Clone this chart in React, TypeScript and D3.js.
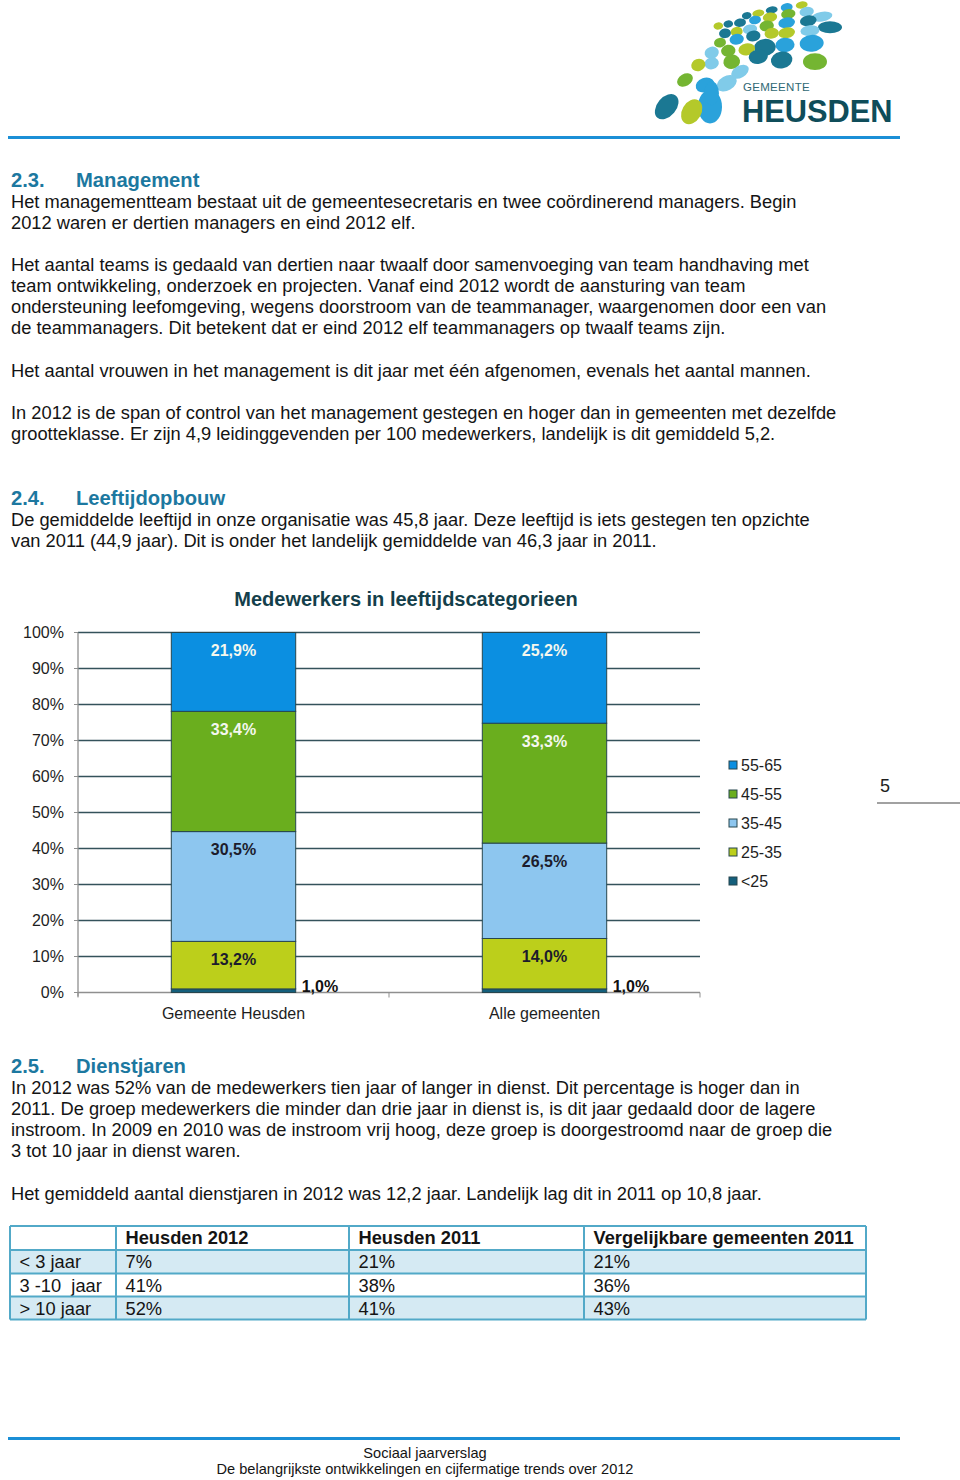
import React from 'react';
import * as d3 from 'd3';

// chart data
const categories = ['Gemeente Heusden', 'Alle gemeenten'];
const ageGroups = ['<25', '25-35', '35-45', '45-55', '55-65'];
const heusden = [1.0, 13.2, 30.5, 33.4, 21.9];
const alleGemeenten = [1.0, 14.0, 26.5, 33.3, 25.2];
const yTicks = [0, 10, 20, 30, 40, 50, 60, 70, 80, 90, 100];

// table data
const tableHead = ['', 'Heusden 2012', 'Heusden 2011', 'Vergelijkbare gemeenten 2011'];
const tableRowLabels = ['< 3 jaar', '3 -10  jaar', '> 10 jaar'];
const heusden2012 = ['7%', '41%', '52%'];
const heusden2011 = ['21%', '38%', '41%'];
const vergelijkbaar2011 = ['21%', '36%', '43%'];

const FONT = '"Liberation Sans", Arial, Helvetica, sans-serif';
const HEAD = '#1c78a0';

const colors: Record<string, string> = {
  '<25': '#145f7c',
  '25-35': '#bccf1b',
  '35-45': '#8dc6ef',
  '45-55': '#6aae1e',
  '55-65': '#0b8fe1',
};
const labelColor: Record<string, string> = {
  '25-35': '#1c1c2c',
  '35-45': '#1c1c2c',
  '45-55': '#f4f7ee',
  '55-65': '#f4f7ee',
};

const para1 = [
  'Het managementteam bestaat uit de gemeentesecretaris en twee coördinerend managers. Begin',
  '2012 waren er dertien managers en eind 2012 elf.',
];
const para2 = [
  'Het aantal teams is gedaald van dertien naar twaalf door samenvoeging van team handhaving met',
  'team ontwikkeling, onderzoek en projecten. Vanaf eind 2012 wordt de aansturing van team',
  'ondersteuning leefomgeving, wegens doorstroom van de teammanager, waargenomen door een van',
  'de teammanagers. Dit betekent dat er eind 2012 elf teammanagers op twaalf teams zijn.',
];
const para3 = ['Het aantal vrouwen in het management is dit jaar met één afgenomen, evenals het aantal mannen.'];
const para4 = [
  'In 2012 is de span of control van het management gestegen en hoger dan in gemeenten met dezelfde',
  'grootteklasse. Er zijn 4,9 leidinggevenden per 100 medewerkers, landelijk is dit gemiddeld 5,2.',
];
const para5 = [
  'De gemiddelde leeftijd in onze organisatie was 45,8 jaar. Deze leeftijd is iets gestegen ten opzichte',
  'van 2011 (44,9 jaar). Dit is onder het landelijk gemiddelde van 46,3 jaar in 2011.',
];
const para6 = [
  'In 2012 was 52% van de medewerkers tien jaar of langer in dienst. Dit percentage is hoger dan in',
  '2011. De groep medewerkers die minder dan drie jaar in dienst is, is dit jaar gedaald door de lagere',
  'instroom. In 2009 en 2010 was de instroom vrij hoog, deze groep is doorgestroomd naar de groep die',
  '3 tot 10 jaar in dienst waren.',
];
const para7 = ['Het gemiddeld aantal dienstjaren in 2012 was 12,2 jaar. Landelijk lag dit in 2011 op 10,8 jaar.'];

// logo blobs: x, y, rx, ry, rotation, colour
const T = '#1b7893', B = '#2aa2db', L = '#80cbe9', G = '#74b532', Y = '#b4c92a';
const blobs: [number, number, number, number, number, string][] = [
  [801.7, 5, 5, 3, -10, Y], [786.7, 7.3, 5, 3.5, -10, B], [771.7, 10, 5, 3, -10, T], [758.3, 13.3, 5, 3, -10, Y],
  [746.7, 15.7, 4, 3, -10, T], [821.7, 16.7, 9, 4, -10, L], [806.7, 11.7, 6, 4, -10, L], [788.3, 14, 6, 4, -10, G],
  [770, 17.3, 6, 4, -10, Y], [755, 20, 5, 3.5, -10, B], [740, 22.7, 5, 3.5, -10, T], [728.3, 24, 4, 3, -10, T],
  [718.3, 26, 4, 3, -10, Y], [830, 27.3, 10, 5, 0, T], [808.3, 20.7, 7, 4.5, -10, T], [786.7, 22.7, 7, 4.5, -10, B],
  [766.7, 26, 6, 4.5, -10, G], [750, 29.3, 6, 4, -10, L], [736.7, 31.7, 5, 4, -10, Y], [725, 33.3, 5, 4, -10, T],
  [810, 30.7, 8, 4.5, -5, L], [786.7, 32.7, 7, 4.5, -10, Y], [771.7, 33.3, 6, 4.5, -10, Y], [753.3, 36, 6, 4.5, -10, T],
  [736.7, 39.3, 6, 4.5, -10, B], [720, 42.7, 5, 4, -10, G], [811.7, 43.3, 10, 7, -5, B], [785, 45, 8, 6, -5, B],
  [765, 47.3, 9, 7, -5, T], [746.7, 49.3, 7, 5, -10, Y], [728.3, 50.7, 6, 5, -10, G], [711.7, 52.7, 6, 5, -15, L],
  [815, 61.7, 10, 7, 0, G], [781.7, 60, 9, 7, -10, T], [758.3, 56.7, 8, 6, -10, T], [731.7, 61.7, 7, 6, -10, G],
  [711.7, 63.3, 6, 5, -15, L], [698.3, 65, 6, 5, -20, Y], [740, 71.7, 8, 5, -30, L], [726.7, 83.3, 9, 6, -30, L],
  [705, 85, 8, 6, -20, B], [685, 80, 7, 5, -30, G], [710, 106.7, 10, 14, 0, B], [691.7, 111.7, 8, 11, 30, Y],
  [666.7, 106.7, 8, 12, 40, T], [711.7, 93.3, 6, 10, 0, B],
];

const fmt = (v: number) => v.toFixed(1).replace('.', ',') + '%';

function Paragraph({ lines, y0 }: { lines: string[]; y0: number }) {
  return (
    <g>
      {lines.map((l, i) => (
        <text key={i} x={11} y={y0 + i * 21.2} fontSize={18.3} fill="#141414">{l}</text>
      ))}
    </g>
  );
}

function Heading({ num, title, y }: { num: string; title: string; y: number }) {
  return (
    <g fontWeight="bold" fontSize={20.2} fill={HEAD}>
      <text x={11} y={y}>{num}</text>
      <text x={76} y={y}>{title}</text>
    </g>
  );
}

function Chart() {
  const x = d3.scaleBand().domain(categories).range([78, 700]);
  const y = d3.scaleLinear().domain([0, 100]).range([992.5, 632.5]);
  const barW = x.bandwidth() * 0.4;

  const rows = categories.map((c, i) => {
    const vals = i === 0 ? heusden : alleGemeenten;
    const r: Record<string, number | string> = { cat: c };
    ageGroups.forEach((g, j) => { r[g] = vals[j]; });
    return r;
  });
  const series = d3.stack<Record<string, number | string>>().keys(ageGroups)(rows as any);

  return (
    <g fontFamily={FONT}>
      <text x={406} y={606} textAnchor="middle" fontSize={20} fontWeight="bold" fill="#143f4b">
        Medewerkers in leeftijdscategorieen
      </text>
      {yTicks.filter((t) => t > 0).map((t) => (
        <line key={t} x1={78} x2={700} y1={y(t)} y2={y(t)} stroke="#34525b" strokeWidth={1.4} />
      ))}
      <line x1={78} x2={78} y1={y(100)} y2={y(0) + 4} stroke="#8f8f8f" strokeWidth={1.3} />
      <line x1={78} x2={700} y1={y(0)} y2={y(0)} stroke="#8f8f8f" strokeWidth={1.3} />
      {yTicks.map((t) => (
        <g key={t}>
          <line x1={74} x2={78} y1={y(t)} y2={y(t)} stroke="#8f8f8f" strokeWidth={1} />
          <text x={64} y={y(t) + 5.5} textAnchor="end" fontSize={16} fill="#1e1e1e">{t}%</text>
        </g>
      ))}
      {[...categories.map((c) => x(c) as number), 700].map((tx, i) => (
        <line key={i} x1={tx} x2={tx} y1={y(0)} y2={y(0) + 5} stroke="#8f8f8f" strokeWidth={1} />
      ))}
      {series.map((s) => (
        <g key={s.key}>
          {s.map((d, i) => {
            const cx = (x(categories[i]) as number) + x.bandwidth() / 2;
            return (
              <rect key={i} x={cx - barW / 2} y={y(d[1])} width={barW} height={y(d[0]) - y(d[1])}
                fill={colors[s.key]} stroke="#27464e" strokeWidth={1} />
            );
          })}
        </g>
      ))}
      {series.map((s) => (
        <g key={'l' + s.key} fontSize={16} fontWeight="bold">
          {s.map((d, i) => {
            const cx = (x(categories[i]) as number) + x.bandwidth() / 2;
            const v = d[1] - d[0];
            if (s.key === '<25') {
              return <text key={i} x={cx + barW / 2 + 6} y={y(d[0]) - 1} fill="#111">{fmt(v)}</text>;
            }
            return (
              <text key={i} x={cx} y={y(d[1]) + 23.5} textAnchor="middle" fill={labelColor[s.key]}>{fmt(v)}</text>
            );
          })}
        </g>
      ))}
      {categories.map((c) => (
        <text key={c} x={(x(c) as number) + x.bandwidth() / 2} y={1019} textAnchor="middle" fontSize={16} fill="#1e1e1e">{c}</text>
      ))}
      {[...ageGroups].reverse().map((g, i) => (
        <g key={g}>
          <rect x={729} y={761 + i * 29} width={8} height={8} fill={colors[g]} stroke="#27464e" strokeWidth={1} />
          <text x={741} y={771 + i * 29} fontSize={16} fill="#1e1e1e">{g}</text>
        </g>
      ))}
    </g>
  );
}

function Table() {
  const cols = [10, 116, 349, 584, 866];
  const rowsY = [1226, 1250, 1273.5, 1296.5, 1319.5];
  const body = tableRowLabels.map((l, i) => [l, heusden2012[i], heusden2011[i], vergelijkbaar2011[i]]);
  const all = [tableHead, ...body];
  return (
    <g fontFamily={FONT} fontSize={18.3}>
      {all.map((r, ri) => (
        <g key={ri}>
          <rect x={cols[0]} y={rowsY[ri]} width={cols[4] - cols[0]} height={rowsY[ri + 1] - rowsY[ri]}
            fill={ri % 2 === 1 ? '#d5eaf3' : '#ffffff'} />
          {r.map((cell, ci) => (
            <text key={ci} x={cols[ci] + 9.5} y={rowsY[ri] + 18} fontWeight={ri === 0 ? 'bold' : 'normal'}
              fill="#141414" style={{ whiteSpace: 'pre' }}>{cell}</text>
          ))}
        </g>
      ))}
      {rowsY.map((ry, i) => (
        <line key={'h' + i} x1={cols[0]} x2={cols[4]} y1={ry} y2={ry} stroke="#52a9c8" strokeWidth={2} />
      ))}
      {cols.map((cx, i) => (
        <line key={'v' + i} x1={cx} x2={cx} y1={rowsY[0]} y2={rowsY[4]} stroke="#52a9c8" strokeWidth={2} />
      ))}
    </g>
  );
}

export default function App() {
  return (
    <svg width={960} height={1480} style={{ position: 'absolute', left: 0, top: 0, background: '#fff' }}
      fontFamily={FONT}>
      <rect width={960} height={1480} fill="#fff" />
      {/* logo */}
      <g>
        {blobs.map(([bx, by, rx, ry, rot, c], i) => (
          <ellipse key={i} cx={bx} cy={by} rx={rx * 1.2} ry={ry * 1.2} fill={c} transform={`rotate(${rot} ${bx} ${by})`} />
        ))}
        <text x={743} y={90.5} fontSize={11.5} fill="#2f6874" letterSpacing={0.3}>GEMEENTE</text>
        <text x={742} y={122} fontSize={30.8} fontWeight="bold" fill="#0f4d5a">HEUSDEN</text>
      </g>
      <line x1={8} x2={900} y1={137.5} y2={137.5} stroke="#1b8fd6" strokeWidth={3} />

      <Heading num="2.3." title="Management" y={187} />
      <Paragraph lines={para1} y0={207.5} />
      <Paragraph lines={para2} y0={270.5} />
      <Paragraph lines={para3} y0={376.5} />
      <Paragraph lines={para4} y0={418.5} />

      <Heading num="2.4." title="Leeftijdopbouw" y={505} />
      <Paragraph lines={para5} y0={525.5} />

      <Chart />

      <text x={880} y={792} fontSize={18} fill="#1e1e1e">5</text>
      <line x1={877} x2={960} y1={803} y2={803} stroke="#444" strokeWidth={1.2} />

      <Heading num="2.5." title="Dienstjaren" y={1073} />
      <Paragraph lines={para6} y0={1093.5} />
      <Paragraph lines={para7} y0={1199.5} />

      <Table />

      <line x1={8} x2={900} y1={1438.5} y2={1438.5} stroke="#1b8fd6" strokeWidth={3} />
      <text x={425} y={1458} textAnchor="middle" fontSize={14.6} fill="#141414">Sociaal jaarverslag</text>
      <text x={425} y={1474} textAnchor="middle" fontSize={14.6} fill="#141414">
        De belangrijkste ontwikkelingen en cijfermatige trends over 2012
      </text>
    </svg>
  );
}
